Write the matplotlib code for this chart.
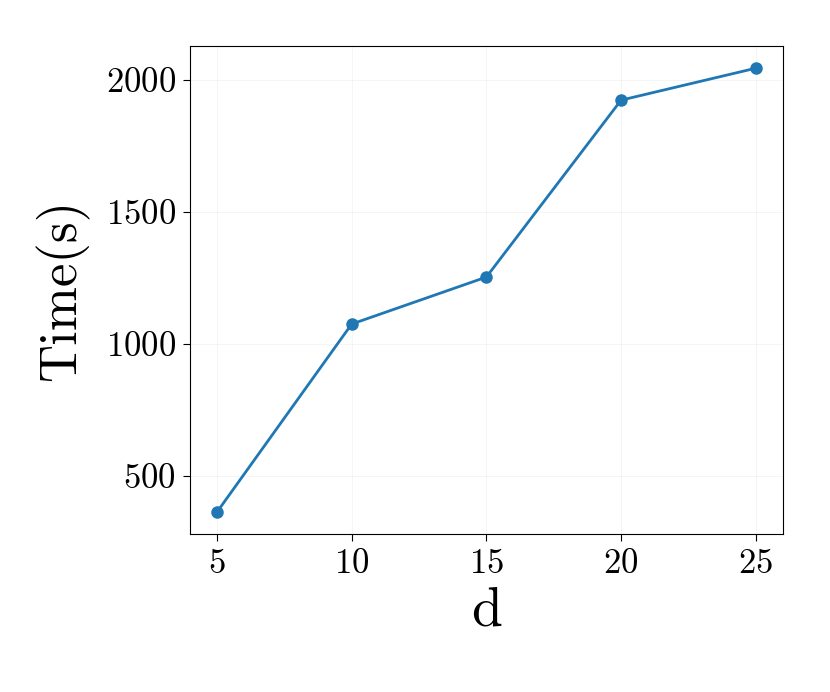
import matplotlib
matplotlib.use("Agg")
import matplotlib.pyplot as plt

plt.rcParams['font.family'] = 'serif'
plt.rcParams['font.serif'] = ['cmr10']
plt.rcParams['mathtext.fontset'] = 'cm'
plt.rcParams['axes.formatter.use_mathtext'] = True

d_values = [5, 10, 15, 20, 25]
times = [364, 1076, 1254, 1924, 2045]
x_ticks = [5, 10, 15, 20, 25]
y_ticks = [500, 1000, 1500, 2000]

fig = plt.figure(figsize=(8.3, 6.92), dpi=100)
ax = fig.add_axes([0.229, 0.228, 0.714, 0.7055])

ax.plot(d_values, times, color='#1f77b4', linewidth=2, marker='o', markersize=8)
ax.set_xticks(x_ticks)
ax.set_yticks(y_ticks)
ax.tick_params(labelsize=25, length=5, pad=5)
ax.grid(True, alpha=0.15, linewidth=0.6)
ax.set_xlabel('d', fontsize=40, labelpad=5)
ax.set_ylabel('Time(s)', fontsize=38, labelpad=12)

fig.savefig('out.png', dpi=100)
